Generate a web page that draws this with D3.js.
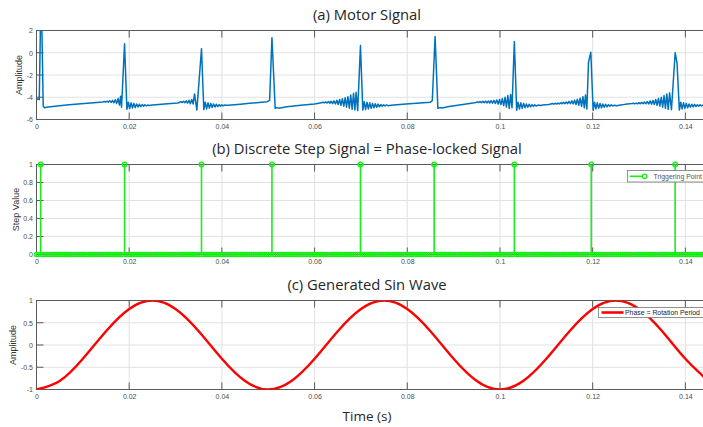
<!DOCTYPE html>
<meta charset="utf-8">
<head>
    <title>Motor / Step / Sine</title>
    <script src="https://d3js.org/d3.v7.min.js"></script>
</head>

<style>
body { margin: 0; background: #fff; }
svg { display: block; font-family: "Liberation Sans", Arial, sans-serif; }
.title { font-family: "Open Sans", sans-serif; font-size: 14.8px; fill: #262626; }
.tick text { font-size: 7px; fill: #4d4d4d; font-family: "Liberation Sans", Arial, sans-serif; }
.ylabel { font-size: 9px; fill: #333; }
</style>

<body>
<svg></svg>

<script>

// ticks
const xTicks = [0, 0.02, 0.04, 0.06, 0.08, 0.1, 0.12, 0.14];
const xTickLabels = ["0", "0.02", "0.04", "0.06", "0.08", "0.1", "0.12", "0.14"];
const motorTicks = [-6, -4, -2, 0, 2];
const motorTickLabels = ["-6", "-4", "-2", "0", "2"];
const stepTicks = [0, 0.2, 0.4, 0.6, 0.8, 1];
const stepTickLabels = ["0", "0.2", "0.4", "0.6", "0.8", "1"];
const sineTicks = [-1, -0.5, 0, 0.5, 1];
const sineTickLabels = ["-1", "-0.5", "0", "0.5", "1"];

// (b) trigger instants (s) -> step value 1, every other sample is 0
const triggerTimes = [0.0009, 0.0190, 0.0356, 0.0508, 0.0699, 0.0858, 0.1031, 0.1197, 0.1378];
const sampleStep = 0.0004;

// (c) sine samples
const sineTimes = [0, 0.005, 0.01, 0.015, 0.02, 0.025, 0.03, 0.035, 0.04, 0.045,
                   0.05, 0.055, 0.06, 0.065, 0.07, 0.075, 0.08, 0.085, 0.09, 0.095,
                   0.1, 0.105, 0.11, 0.115, 0.12, 0.125, 0.13, 0.135, 0.14, 0.145];
const sineValues = [-1, -0.81, -0.31, 0.31, 0.81, 1, 0.81, 0.31, -0.31, -0.81,
                    -1, -0.81, -0.31, 0.31, 0.81, 1, 0.81, 0.31, -0.31, -0.81,
                    -1, -0.81, -0.31, 0.31, 0.81, 1, 0.81, 0.31, -0.31, -0.81];

// (a) motor signal, [time in ms, amplitude]
const motorPoints = [
  [0,-4.25],[0.3,-4.15],[0.6,-4.2],[0.85,2.4],[1.15,2.4],[1.45,-4.8],[1.75,-4.95],[2.2,-4.9],[3,-4.86],
  [5,-4.76],[7,-4.67],[9,-4.6],[11,-4.53],[13,-4.47],[14.3,-4.42],
  [14.6,-4.38],[14.9,-4.43],[15.2,-4.35],[15.5,-4.44],[15.8,-4.32],[16.1,-4.46],[16.4,-4.28],[16.7,-4.5],
  [17.0,-4.22],[17.3,-4.55],[17.6,-4.12],[17.9,-4.7],[18.15,-3.9],[18.35,-4.9],[19.0,0.8],[19.5,-5.08],
  [19.8,-4.45],[20.1,-5.02],[20.4,-4.5],[20.7,-4.97],[21.0,-4.55],[21.3,-4.92],[21.6,-4.6],[21.9,-4.88],
  [22.2,-4.63],[22.5,-4.84],[22.8,-4.66],[23.1,-4.8],[23.4,-4.68],[23.7,-4.77],[24.0,-4.7],[24.4,-4.74],[25,-4.7],
  [27,-4.63],[29,-4.57],[30.5,-4.52],
  [30.8,-4.47],[31.1,-4.4],[31.4,-4.48],[31.7,-4.36],[32.0,-4.5],[32.3,-4.32],[32.6,-4.53],[32.9,-4.27],
  [33.2,-4.58],[33.5,-4.2],[33.8,-4.6],[34.1,-3.7],[34.6,-5.15],[35.6,0.35],[36.1,-5.1],
  [36.4,-4.45],[36.7,-5.05],[37.0,-4.5],[37.3,-4.98],[37.6,-4.55],[37.9,-4.92],[38.2,-4.6],[38.5,-4.88],
  [38.8,-4.63],[39.1,-4.84],[39.4,-4.66],[39.7,-4.8],[40.0,-4.68],[40.3,-4.77],[40.7,-4.7],[41.2,-4.73],[42,-4.7],
  [44,-4.63],[46,-4.55],[48,-4.47],[49.8,-4.4],[50.3,-4.28],[50.8,1.35],[51.5,-5.0],[51.9,-4.93],[52.3,-4.98],
  [54,-4.85],[57,-4.72],[60,-4.6],[61.5,-4.5],
  [61.8,-4.45],[62.1,-4.5],[62.4,-4.42],[62.7,-4.52],[63.0,-4.39],[63.3,-4.54],[63.6,-4.36],[63.9,-4.57],
  [64.2,-4.32],[64.5,-4.6],[64.8,-4.27],[65.1,-4.65],[65.4,-4.2],[65.7,-4.72],[66.0,-4.13],[66.3,-4.8],
  [66.6,-4.05],[66.9,-4.88],[67.2,-3.95],[67.5,-4.98],[67.8,-3.8],[68.1,-5.08],[68.4,-3.65],[68.7,-5.15],
  [68.95,-3.55],[69.3,-5.2],[69.9,0.65],[70.4,-5.15],
  [70.7,-4.4],[71.0,-5.1],[71.3,-4.45],[71.6,-5.05],[71.9,-4.5],[72.2,-5.0],[72.5,-4.55],[72.8,-4.95],
  [73.1,-4.58],[73.4,-4.9],[73.7,-4.62],[74.0,-4.86],[74.3,-4.65],[74.6,-4.82],[74.9,-4.67],[75.2,-4.79],
  [75.5,-4.69],[75.9,-4.76],[76.5,-4.72],
  [79,-4.63],[82,-4.53],[85.0,-4.44],[85.4,-4.3],[86.0,1.47],[86.6,-5.0],[87.1,-4.93],[87.5,-4.97],
  [89,-4.84],[92,-4.66],[94.5,-4.5],
  [94.8,-4.47],[95.1,-4.41],[95.4,-4.48],[95.7,-4.39],[96.0,-4.49],[96.3,-4.37],[96.6,-4.5],[96.9,-4.35],
  [97.2,-4.51],[97.5,-4.33],[97.8,-4.52],[98.1,-4.31],[98.4,-4.54],[98.7,-4.28],[99.0,-4.56],[99.3,-4.25],
  [99.6,-4.6],[99.9,-4.2],[100.2,-4.66],[100.5,-4.12],[100.8,-4.75],[101.1,-4.0],[101.4,-4.88],[101.7,-3.85],
  [102.0,-5.0],[102.3,-3.75],[102.6,-4.95],[103.1,1.0],[103.6,-5.17],
  [103.9,-4.45],[104.2,-5.05],[104.5,-4.5],[104.8,-5.0],[105.1,-4.55],[105.4,-4.95],[105.7,-4.6],[106.0,-4.9],
  [106.3,-4.63],[106.6,-4.86],[106.9,-4.66],[107.2,-4.82],[107.5,-4.68],[107.8,-4.79],[108.2,-4.7],[108.7,-4.75],[109.3,-4.7],
  [110.5,-4.65],[111.0,-4.6],[111.3,-4.56],[111.6,-4.62],[111.9,-4.54],[112.2,-4.61],[112.5,-4.52],[112.8,-4.6],
  [113.1,-4.49],[113.4,-4.59],[113.7,-4.46],[114.0,-4.58],[114.3,-4.42],[114.6,-4.57],[114.9,-4.37],[115.2,-4.58],
  [115.5,-4.32],[115.8,-4.6],[116.1,-4.26],[116.4,-4.65],[116.7,-4.18],[117.0,-4.72],[117.3,-4.08],[117.6,-4.82],
  [117.9,-3.95],[118.2,-4.95],[118.45,-3.8],[118.75,-5.05],[119.1,-0.85],[119.6,0.05],[120.1,-5.17],
  [120.4,-4.45],[120.7,-5.05],[121.0,-4.5],[121.3,-5.0],[121.6,-4.55],[121.9,-4.95],[122.2,-4.6],[122.5,-4.9],
  [122.8,-4.63],[123.1,-4.86],[123.4,-4.66],[123.7,-4.82],[124.0,-4.68],[124.3,-4.79],[124.7,-4.71],[125.2,-4.76],[126,-4.7],
  [127,-4.64],[128.5,-4.57],
  [128.8,-4.54],[129.1,-4.59],[129.4,-4.52],[129.7,-4.59],[130.0,-4.49],[130.3,-4.59],[130.6,-4.46],[130.9,-4.58],
  [131.2,-4.43],[131.5,-4.58],[131.8,-4.39],[132.1,-4.6],[132.4,-4.33],[132.7,-4.62],[133.0,-4.28],[133.3,-4.66],
  [133.6,-4.2],[133.9,-4.72],[134.2,-4.1],[134.5,-4.8],[134.8,-4.0],[135.1,-4.9],[135.4,-3.85],[135.7,-5.0],
  [136.0,-3.7],[136.3,-5.1],[136.6,-3.6],[137.0,-5.12],[137.8,0.0],[138.2,-0.9],[138.7,-5.15],
  [139.0,-4.45],[139.3,-5.05],[139.6,-4.5],[139.9,-5.0],[140.2,-4.55],[140.5,-4.95],[140.8,-4.6],[141.1,-4.9],
  [141.4,-4.63],[141.7,-4.86],[142.0,-4.65],[142.3,-4.83],[142.6,-4.67],[142.9,-4.8],[143.2,-4.68],[143.5,-4.78],
  [143.8,-4.7],[144.1,-4.76]
];

const width = 703, height = 427;
const gridColor = "#e2e2e2";
const axisColor = "#5a5a5a";
const tickLen = 7;

const svg = d3.select("svg").attr("width", width).attr("height", height);

// shared time axis, right side runs off the picture
const x = d3.scaleLinear().domain([0, 0.144]).range([36.5, 703.9]);
const xLeft = x.range()[0], xRight = x.range()[1];

function drawPanel(p) {
  const y = d3.scaleLinear().domain(p.yDomain).range([p.bottom, p.top]);
  const g = svg.append("g");

  // grid
  g.append("g").selectAll("line").data(xTicks.slice(1)).join("line")
    .attr("x1", d => x(d)).attr("x2", d => x(d))
    .attr("y1", p.top).attr("y2", p.bottom)
    .attr("stroke", gridColor);
  g.append("g").selectAll("line").data(p.yTicks).join("line")
    .attr("x1", xLeft).attr("x2", xRight)
    .attr("y1", d => y(d)).attr("y2", d => y(d))
    .attr("stroke", gridColor);

  // inward tick marks (bottom, top, left)
  g.append("g").selectAll("line").data(xTicks).join("line")
    .attr("x1", d => x(d)).attr("x2", d => x(d))
    .attr("y1", p.bottom).attr("y2", p.bottom - tickLen)
    .attr("stroke", axisColor);
  g.append("g").selectAll("line").data(xTicks).join("line")
    .attr("x1", d => x(d)).attr("x2", d => x(d))
    .attr("y1", p.top).attr("y2", p.top + tickLen)
    .attr("stroke", axisColor);
  g.append("g").selectAll("line").data(p.yTicks).join("line")
    .attr("x1", xLeft).attr("x2", xLeft + tickLen)
    .attr("y1", d => y(d)).attr("y2", d => y(d))
    .attr("stroke", axisColor);

  // box
  g.append("rect")
    .attr("x", xLeft).attr("y", p.top)
    .attr("width", xRight - xLeft + 5).attr("height", p.bottom - p.top)
    .attr("fill", "none").attr("stroke", axisColor);

  // tick labels
  g.append("g").attr("transform", `translate(0,${p.bottom})`)
    .call(d3.axisBottom(x).tickValues(xTicks).tickFormat((d, i) => xTickLabels[i]).tickSize(0).tickPadding(5))
    .call(a => a.select(".domain").remove());
  g.append("g").attr("transform", `translate(${xLeft},0)`)
    .call(d3.axisLeft(y).tickValues(p.yTicks).tickFormat((d, i) => p.yTickLabels[i]).tickSize(0).tickPadding(3.5))
    .call(a => a.select(".domain").remove());

  g.selectAll(".tick text").attr("font-size", null).attr("font-family", null);

  // y label
  g.append("text").attr("class", "ylabel")
    .attr("transform", `translate(${p.yLabelX},${(p.top + p.bottom) / 2}) rotate(-90)`)
    .attr("text-anchor", "middle")
    .text(p.yLabel);

  // title
  svg.append("text").attr("class", "title")
    .attr("x", 367).attr("y", p.titleY)
    .attr("text-anchor", "middle")
    .text(p.title);

  // clip
  svg.append("clipPath").attr("id", p.id)
    .append("rect").attr("x", xLeft).attr("y", p.top)
    .attr("width", xRight - xLeft).attr("height", p.bottom - p.top);

  return y;
}

// (a) motor signal
const yA = drawPanel({
  id: "clipA", top: 30.5, bottom: 119.5, yDomain: [-6, 2],
  yTicks: motorTicks, yTickLabels: motorTickLabels,
  yLabel: "Amplitude", yLabelX: 22, title: "(a) Motor Signal", titleY: 19.5
});

svg.append("path")
  .datum(motorPoints)
  .attr("clip-path", "url(#clipA)")
  .attr("fill", "none")
  .attr("stroke", "#0072BD")
  .attr("stroke-width", 1.5)
  .attr("stroke-linejoin", "round")
  .attr("d", d3.line().x(d => x(d[0] / 1000)).y(d => yA(d[1])));

// (b) step signal
const yB = drawPanel({
  id: "clipB", top: 164.5, bottom: 254.5, yDomain: [0, 1],
  yTicks: stepTicks, yTickLabels: stepTickLabels,
  yLabel: "Step Value", yLabelX: 18.5, title: "(b) Discrete Step Signal = Phase-locked Signal", titleY: 153.5
});

const green = "#1aee1a";
const zeroSamples = d3.range(0, 0.1445, sampleStep)
  .filter(t => !triggerTimes.some(tt => Math.abs(tt - t) < sampleStep / 2));

svg.append("g").selectAll("circle").data(zeroSamples).join("circle")
  .attr("cx", d => x(d)).attr("cy", yB(0)).attr("r", 2.2)
  .attr("fill", "none").attr("stroke", green).attr("stroke-width", 1.2);

svg.append("g").selectAll("line").data(triggerTimes).join("line")
  .attr("x1", d => x(d)).attr("x2", d => x(d))
  .attr("y1", yB(0)).attr("y2", yB(1))
  .attr("stroke", green).attr("stroke-width", 1.6);

svg.append("g").selectAll("circle").data(triggerTimes).join("circle")
  .attr("cx", d => x(d)).attr("cy", yB(1)).attr("r", 2.3)
  .attr("fill", "none").attr("stroke", green).attr("stroke-width", 1.4);

// legend (b)
const legB = svg.append("g").attr("transform", "translate(627.5,170.5)");
legB.append("rect").attr("width", 90).attr("height", 11.5)
  .attr("fill", "#fff").attr("stroke", "#777").attr("stroke-width", 0.8);
legB.append("line").attr("x1", 2).attr("x2", 19).attr("y1", 5.8).attr("y2", 5.8)
  .attr("stroke", green).attr("stroke-width", 1.6);
legB.append("circle").attr("cx", 17).attr("cy", 5.8).attr("r", 2.2)
  .attr("fill", "#fff").attr("stroke", green).attr("stroke-width", 1.4);
legB.append("text").attr("x", 26).attr("y", 8.7)
  .attr("font-size", 6.9).attr("fill", "#555").text("Triggering Point");

// (c) generated sine
const yC = drawPanel({
  id: "clipC", top: 300.5, bottom: 389.5, yDomain: [-1, 1],
  yTicks: sineTicks, yTickLabels: sineTickLabels,
  yLabel: "Amplitude", yLabelX: 16, title: "(c) Generated Sin Wave", titleY: 290
});

svg.append("path")
  .datum(sineTimes.map((t, i) => [t, sineValues[i]]))
  .attr("clip-path", "url(#clipC)")
  .attr("fill", "none")
  .attr("stroke", "#ff0000")
  .attr("stroke-width", 2.4)
  .attr("d", d3.line().curve(d3.curveNatural).x(d => x(d[0])).y(d => yC(d[1])));

// legend (c)
const legC = svg.append("g").attr("transform", "translate(598.5,307.5)");
legC.append("rect").attr("width", 120).attr("height", 10)
  .attr("fill", "#fff").attr("stroke", "#777").attr("stroke-width", 0.8);
legC.append("line").attr("x1", 3).attr("x2", 25).attr("y1", 5).attr("y2", 5)
  .attr("stroke", "#ff0000").attr("stroke-width", 2.6);
legC.append("text").attr("x", 26.5).attr("y", 7.6)
  .attr("font-size", 6.9).attr("fill", "#222").text("Phase = Rotation Period");

// x label
svg.append("text").attr("class", "title")
  .attr("x", 367).attr("y", 421)
  .attr("text-anchor", "middle")
  .style("font-size", "13.5px")
  .text("Time (s)");

</script>
</body>
